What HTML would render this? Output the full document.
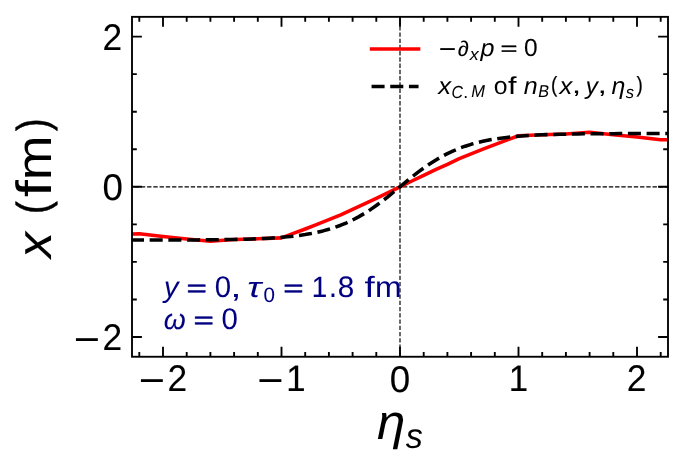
<!DOCTYPE html><html><head><meta charset="utf-8"><title>x vs eta_s</title><style>html,body{margin:0;padding:0;background:#fff;}svg{display:block;will-change:transform;}text{font-family:"Liberation Sans",sans-serif;}</style></head><body>
<svg width="685" height="471" viewBox="0 0 685 471" text-rendering="geometricPrecision">
<rect x="0" y="0" width="685" height="471" fill="#fff"/>
<defs><clipPath id="ax"><rect x="132" y="16.85" width="536" height="339.9"/></clipPath></defs>
<text transform="matrix(1.0318 0 0 1.0236 164.0066 297.1101)" font-size="28" font-style="italic" stroke="#000080" stroke-width="0.0457" stroke-linejoin="round" fill="#000080">y</text>
<text transform="matrix(1.2474 0 0 0.8138 186.6102 295.9926)" font-size="28" stroke="#000080" stroke-width="0.5547" stroke-linejoin="round" fill="#000080">=</text>
<text transform="matrix(1.0495 0 0 1.0652 214.7139 297.3315)" font-size="28" stroke="#000080" stroke-width="0.0582" stroke-linejoin="round" fill="#000080">0</text>
<text transform="matrix(1.4577 0 0 1.0229 230.2929 296.847)" font-size="28" fill="#000080">,</text>
<text transform="matrix(1.343 0 0 1.0163 247.1434 296.9791)" font-size="28" font-style="italic" fill="#000080">τ</text>
<text transform="matrix(1.0495 0 0 1.0652 263.5227 301.9029)" font-size="19.6" stroke="#000080" stroke-width="0.0407" stroke-linejoin="round" fill="#000080">0</text>
<text transform="matrix(1.2474 0 0 0.8138 283.2443 295.9926)" font-size="28" stroke="#000080" stroke-width="0.5547" stroke-linejoin="round" fill="#000080">=</text>
<text transform="matrix(0.9938 0 0 1.0515 311.6545 297.1786)" font-size="28" stroke="#000080" stroke-width="0.1535" stroke-linejoin="round" fill="#000080">1</text>
<text transform="matrix(1.0803 0 0 1.1583 328.6684 297.2547)" font-size="28" fill="#000080">.</text>
<text transform="matrix(1.0586 0 0 1.0637 337.7571 297.3171)" font-size="28" stroke="#000080" stroke-width="0.0858" stroke-linejoin="round" fill="#000080">8</text>
<text transform="matrix(1.3131 0 0 1.0499 364.4362 297.257)" font-size="28" fill="#000080">f</text>
<text transform="matrix(1.1394 0 0 1.0408 374.8961 297.257)" font-size="28" fill="#000080">m</text>
<text transform="matrix(1.0072 0 0 1.0173 163.7199 329.227)" font-size="28" font-style="italic" stroke="#000080" stroke-width="0.0883" stroke-linejoin="round" fill="#000080">ω</text>
<text transform="matrix(1.2474 0 0 0.8138 193.4871 327.889)" font-size="28" stroke="#000080" stroke-width="0.5547" stroke-linejoin="round" fill="#000080">=</text>
<text transform="matrix(1.0495 0 0 1.0652 221.5908 329.2278)" font-size="28" stroke="#000080" stroke-width="0.0582" stroke-linejoin="round" fill="#000080">0</text>
<g clip-path="url(#ax)" fill="none" stroke="#000" stroke-width="1.18">
<path d="M132 186.8H668" stroke-dasharray="4.36 1.88" stroke-dashoffset="3.62"/>
<path d="M400 356.75V16.85" stroke-dasharray="4.36 1.88" stroke-dashoffset="4.48"/>
</g>
<g clip-path="url(#ax)" fill="none" stroke-linejoin="round">
<polyline points="115.6 234.34 139.3 233.74 163 236.52 186.7 238.92 210.4 241.25 234.1 239.6 257.8 238.84 281.5 237.87 293.35 233.44 305.2 229.01 317.05 224.43 328.9 219.69 340.75 214.89 352.6 209.33 364.45 203.92 376.3 198.29 388.15 192.58 400 186.8 411.85 181.02 423.7 175.31 435.55 169.68 447.4 164.27 459.25 158.71 471.1 153.91 482.95 149.17 494.8 144.59 506.65 140.16 518.5 135.73 542.2 134.76 565.9 134 589.6 132.35 613.3 134.68 637 137.08 660.7 139.86 684.4 139.26" stroke="#f00" stroke-width="3.53" stroke-linecap="square"/>
<polyline points="109.67 240.11 115.6 240.11 121.52 240.1 127.45 240.1 133.38 240.09 139.3 240.08 145.23 240.08 151.15 240.07 157.08 240.06 163 240.05 168.93 240.03 174.85 240.02 180.77 239.99 186.7 239.96 192.62 239.93 198.55 239.9 204.48 239.85 210.4 239.8 216.32 239.74 222.25 239.66 228.18 239.57 234.1 239.46 240.02 239.32 245.95 239.17 251.88 238.99 257.8 238.76 263.73 238.5 269.65 238.18 275.57 237.8 281.5 237.36 287.43 236.82 293.35 236.19 299.27 235.45 305.2 234.57 311.12 233.54 317.05 232.33 322.98 230.92 328.9 229.28 334.82 227.4 340.75 225.24 346.68 222.77 352.6 219.98 358.52 216.86 364.45 213.42 370.38 209.64 376.3 205.54 382.23 201.17 388.15 196.55 394.07 191.73 400 186.8 405.93 181.87 411.85 177.05 417.77 172.43 423.7 168.06 429.62 163.96 435.55 160.18 441.48 156.74 447.4 153.62 453.32 150.83 459.25 148.36 465.18 146.2 471.1 144.32 477.02 142.68 482.95 141.27 488.88 140.06 494.8 139.03 500.73 138.15 506.65 137.41 512.58 136.78 518.5 136.24 524.42 135.8 530.35 135.42 536.27 135.1 542.2 134.84 548.12 134.61 554.05 134.43 559.98 134.28 565.9 134.14 571.83 134.03 577.75 133.94 583.67 133.86 589.6 133.8 595.52 133.75 601.45 133.7 607.38 133.67 613.3 133.64 619.23 133.61 625.15 133.58 631.08 133.57 637 133.55 642.92 133.54 648.85 133.53 654.77 133.52 660.7 133.52 666.62 133.51 672.55 133.5 678.48 133.5 684.4 133.49 690.33 133.49" stroke="#000" stroke-width="3.53" stroke-dasharray="13.049 5.643" stroke-dashoffset="16.096"/>
</g>
<path d="M139.3 356.75v-4.8M139.3 16.85v4.8M163 356.75v-9.9M163 16.85v9.9M186.7 356.75v-4.8M186.7 16.85v4.8M210.4 356.75v-4.8M210.4 16.85v4.8M234.1 356.75v-4.8M234.1 16.85v4.8M257.8 356.75v-4.8M257.8 16.85v4.8M281.5 356.75v-9.9M281.5 16.85v9.9M305.2 356.75v-4.8M305.2 16.85v4.8M328.9 356.75v-4.8M328.9 16.85v4.8M352.6 356.75v-4.8M352.6 16.85v4.8M376.3 356.75v-4.8M376.3 16.85v4.8M400 356.75v-9.9M400 16.85v9.9M423.7 356.75v-4.8M423.7 16.85v4.8M447.4 356.75v-4.8M447.4 16.85v4.8M471.1 356.75v-4.8M471.1 16.85v4.8M494.8 356.75v-4.8M494.8 16.85v4.8M518.5 356.75v-9.9M518.5 16.85v9.9M542.2 356.75v-4.8M542.2 16.85v4.8M565.9 356.75v-4.8M565.9 16.85v4.8M589.6 356.75v-4.8M589.6 16.85v4.8M613.3 356.75v-4.8M613.3 16.85v4.8M637 356.75v-9.9M637 16.85v9.9M660.7 356.75v-4.8M660.7 16.85v4.8M132 337h9.9M668 337h-9.9M132 299.45h4.8M668 299.45h-4.8M132 261.9h4.8M668 261.9h-4.8M132 224.35h4.8M668 224.35h-4.8M132 186.8h9.9M668 186.8h-9.9M132 149.25h4.8M668 149.25h-4.8M132 111.7h4.8M668 111.7h-4.8M132 74.15h4.8M668 74.15h-4.8M132 36.6h9.9M668 36.6h-9.9" stroke="#000" stroke-width="1.87" fill="none"/>
<rect x="132" y="16.85" width="536" height="339.9" fill="none" stroke="#000" stroke-width="1.87"/>
<text transform="matrix(1.2865 0 0 1.1509 138.7499 393.8915)" font-size="35" stroke="#000" stroke-width="0.0276" stroke-linejoin="round" fill="#000">−</text>
<text transform="matrix(1.0116 0 0 1.06 167.3897 391.4331)" font-size="35" stroke="#000" stroke-width="0.0688" stroke-linejoin="round" fill="#000">2</text>
<text transform="matrix(1.2865 0 0 1.1509 257.2308 393.8915)" font-size="35" stroke="#000" stroke-width="0.0276" stroke-linejoin="round" fill="#000">−</text>
<text transform="matrix(0.9938 0 0 1.0515 286.346 391.3707)" font-size="35" stroke="#000" stroke-width="0.1918" stroke-linejoin="round" fill="#000">1</text>
<text transform="matrix(1.0495 0 0 1.0652 389.7821 391.5618)" font-size="35" stroke="#000" stroke-width="0.0728" stroke-linejoin="round" fill="#000">0</text>
<text transform="matrix(0.9938 0 0 1.0515 508.6462 391.3707)" font-size="35" stroke="#000" stroke-width="0.1918" stroke-linejoin="round" fill="#000">1</text>
<text transform="matrix(1.0116 0 0 1.06 626.6518 391.4331)" font-size="35" stroke="#000" stroke-width="0.0688" stroke-linejoin="round" fill="#000">2</text>
<text transform="matrix(1.073 0 0 1.0308 377.04 439.4719)" font-size="47.6" font-style="italic" fill="#000">η</text>
<text transform="matrix(1.023 0 0 1.0496 405.6637 447.6801)" font-size="33.32" font-style="italic" stroke="#000" stroke-width="0.0241" stroke-linejoin="round" fill="#000">s</text>
<text transform="matrix(1.2865 0 0 1.1509 73.7424 352.7482)" font-size="35" stroke="#000" stroke-width="0.0276" stroke-linejoin="round" fill="#000">−</text>
<text transform="matrix(1.0116 0 0 1.06 102.3822 350.2898)" font-size="35" stroke="#000" stroke-width="0.0688" stroke-linejoin="round" fill="#000">2</text>
<text transform="matrix(1.0495 0 0 1.0652 102.4772 200.1943)" font-size="35" stroke="#000" stroke-width="0.0728" stroke-linejoin="round" fill="#000">0</text>
<text transform="matrix(1.0116 0 0 1.06 102.3849 49.8414)" font-size="35" stroke="#000" stroke-width="0.0688" stroke-linejoin="round" fill="#000">2</text>
<text transform="matrix(0 -1.0967 1.0321 0 50.9601 258.0971)" font-size="47.2668" font-style="italic" stroke="#000" stroke-width="0.0704" stroke-linejoin="round" fill="#000">x</text>
<text transform="matrix(0 -0.809 0.9456 0 47.7477 214.0715)" font-size="47.2668" stroke="#000" stroke-width="0.5202" stroke-linejoin="round" fill="#000">(</text>
<text transform="matrix(0 -1.3131 1.0499 0 50.9975 197.3433)" font-size="47.2668" fill="#000">f</text>
<text transform="matrix(0 -1.1394 1.0408 0 50.9975 180.1924)" font-size="47.2668" fill="#000">m</text>
<text transform="matrix(0 -0.8091 0.9457 0 47.7481 131.0776)" font-size="47.2668" stroke="#000" stroke-width="0.5186" stroke-linejoin="round" fill="#000">)</text>
<path d="M371.55 49H418.55" stroke="#f00" stroke-width="3.53" fill="none" stroke-linecap="square"/>
<path d="M371.55 86.6H418.55" stroke="#000" stroke-width="3.53" fill="none" stroke-dasharray="13.049 5.643"/>
<text transform="matrix(1.2865 0 0 1.1509 438.6796 57.5129)" font-size="23.3333" stroke="#000" stroke-width="0.0184" stroke-linejoin="round" fill="#000">−</text>
<text transform="matrix(0.964 0 0 0.9187 457.7136 55.9265)" font-size="23.3333" stroke="#000" stroke-width="0.0405" stroke-linejoin="round" fill="#000">∂</text>
<text transform="matrix(1.0967 0 0 1.0321 469.8234 59.7129)" font-size="16.3333" font-style="italic" stroke="#000" stroke-width="0.0243" stroke-linejoin="round" fill="#000">x</text>
<text transform="matrix(1.0781 0 0 1.03 480.3792 55.7628)" font-size="23.3333" font-style="italic" fill="#000">p</text>
<text transform="matrix(1.2474 0 0 0.8138 500.4611 54.8441)" font-size="23.3333" stroke="#000" stroke-width="0.4622" stroke-linejoin="round" fill="#000">=</text>
<text transform="matrix(1.0495 0 0 1.0652 523.8809 55.9598)" font-size="23.3333" stroke="#000" stroke-width="0.0485" stroke-linejoin="round" fill="#000">0</text>
<text transform="matrix(1.0967 0 0 1.0321 438.2156 93.6579)" font-size="23.3333" font-style="italic" stroke="#000" stroke-width="0.0347" stroke-linejoin="round" fill="#000">x</text>
<text transform="matrix(0.971 0 0 1.0683 451.3959 97.5654)" font-size="16.3333" font-style="italic" fill="#000">C</text>
<text transform="matrix(1.0803 0 0 1.1583 463.1264 97.5032)" font-size="16.3333" fill="#000">.</text>
<text transform="matrix(1.0057 0 0 1.0563 471.3158 97.4857)" font-size="16.3333" font-style="italic" stroke="#000" stroke-width="0.0365" stroke-linejoin="round" fill="#000">M</text>
<text transform="matrix(1.0625 0 0 1.0477 493.7603 93.7651)" font-size="23.3333" fill="#000">o</text>
<text transform="matrix(1.3131 0 0 1.0499 507.8883 93.6764)" font-size="23.3333" fill="#000">f</text>
<text transform="matrix(1.0741 0 0 1.0418 523.8224 93.6764)" font-size="23.3333" font-style="italic" fill="#000">n</text>
<text transform="matrix(0.9902 0 0 1.0567 538.1639 97.4884)" font-size="16.3333" font-style="italic" stroke="#000" stroke-width="0.0316" stroke-linejoin="round" fill="#000">B</text>
<text transform="matrix(0.809 0 0 0.9456 550.9968 92.0721)" font-size="23.3333" stroke="#000" stroke-width="0.2568" stroke-linejoin="round" fill="#000">(</text>
<text transform="matrix(1.0967 0 0 1.0321 559.5923 93.6579)" font-size="23.3333" font-style="italic" stroke="#000" stroke-width="0.0347" stroke-linejoin="round" fill="#000">x</text>
<text transform="matrix(1.4577 0 0 1.0229 571.7059 93.3347)" font-size="23.3333" fill="#000">,</text>
<text transform="matrix(1.0318 0 0 1.0236 585.7267 93.5539)" font-size="23.3333" font-style="italic" stroke="#000" stroke-width="0.0381" stroke-linejoin="round" fill="#000">y</text>
<text transform="matrix(1.4577 0 0 1.0229 597.4774 93.3347)" font-size="23.3333" fill="#000">,</text>
<text transform="matrix(1.073 0 0 1.0308 611.602 93.5387)" font-size="23.3333" font-style="italic" fill="#000">η</text>
<text transform="matrix(1.023 0 0 1.0496 625.6332 97.5623)" font-size="16.3333" font-style="italic" stroke="#000" stroke-width="0.0118" stroke-linejoin="round" fill="#000">s</text>
<text transform="matrix(0.8091 0 0 0.9457 636.5019 92.0723)" font-size="23.3333" stroke="#000" stroke-width="0.256" stroke-linejoin="round" fill="#000">)</text>
</svg></body></html>
